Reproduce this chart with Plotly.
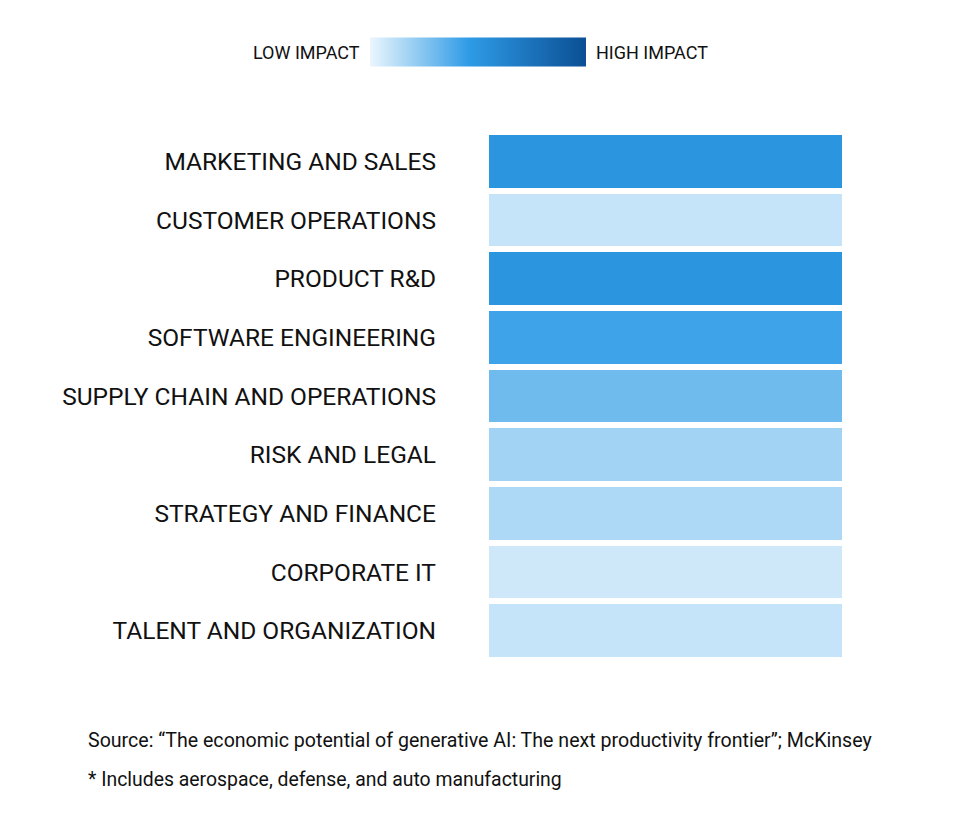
import plotly.graph_objects as go

categories = ["MARKETING AND SALES", "CUSTOMER OPERATIONS", "PRODUCT R&D",
              "SOFTWARE ENGINEERING", "SUPPLY CHAIN AND OPERATIONS", "RISK AND LEGAL",
              "STRATEGY AND FINANCE", "CORPORATE IT", "TALENT AND ORGANIZATION"]
impact = [50, 9, 50, 42, 30, 17.5, 15, 7, 9]
low_label = "LOW IMPACT"
high_label = "HIGH IMPACT"
source_text = "Source: \u201cThe economic potential of generative AI: The next productivity frontier\u201d; McKinsey"
note_text = "* Includes aerospace, defense, and auto manufacturing"

FONT = "Roboto, sans-serif"

colorscale = [[0, "#EBF6FD"], [0.46, "#2E9BE6"], [1, "#0B4F94"]]

# page body has an 8px margin, so the figure is drawn 8px in from the top-left
W, H = 952, 830
L, T = 481, 124
PW, PH = 353, 528

fig = go.Figure(go.Heatmap(
    z=[[v] for v in impact],
    x=["impact"],
    y=categories,
    zmin=0, zmax=100,
    colorscale=colorscale,
    ygap=6,
    xgap=0,
    hovertemplate="%{y}: %{z}<extra></extra>",
    colorbar=dict(
        orientation="h",
        lenmode="pixels", len=216,
        thicknessmode="pixels", thickness=29,
        x=-0.031, xanchor="center",
        y=1.1506, yanchor="middle",
        xpad=0, ypad=0,
        outlinewidth=0,
        showticklabels=False,
        ticks="",
    ),
))

fig.update_layout(
    width=W, height=H,
    margin=dict(l=L, r=W - L - PW, t=T, b=H - T - PH, autoexpand=False),
    paper_bgcolor="white", plot_bgcolor="white",
    font=dict(family=FONT, color="#111111"),
    xaxis=dict(visible=False),
    yaxis=dict(autorange="reversed", tickfont=dict(size=24.5, family=FONT, color="#111111"),
               ticklabelstandoff=52, showgrid=False, zeroline=False, ticks=""),
    annotations=[
        dict(text=low_label, xref="paper", yref="paper", x=-0.36, y=1.1506,
             xanchor="right", yanchor="middle", showarrow=False,
             font=dict(size=18, family=FONT, color="#111111")),
        dict(text=high_label, xref="paper", yref="paper", x=0.2975, y=1.1506,
             xanchor="left", yanchor="middle", showarrow=False,
             font=dict(size=18, family=FONT, color="#111111")),
        dict(text=source_text, xref="paper", yref="paper", x=-1.1417, y=-0.152,
             xanchor="left", yanchor="middle", showarrow=False,
             font=dict(size=19.6, family=FONT, color="#111111")),
        dict(text=note_text, xref="paper", yref="paper", x=-1.1417, y=-0.226,
             xanchor="left", yanchor="middle", showarrow=False,
             font=dict(size=19.4, family=FONT, color="#111111")),
    ],
)

fig.write_html("out.html")
